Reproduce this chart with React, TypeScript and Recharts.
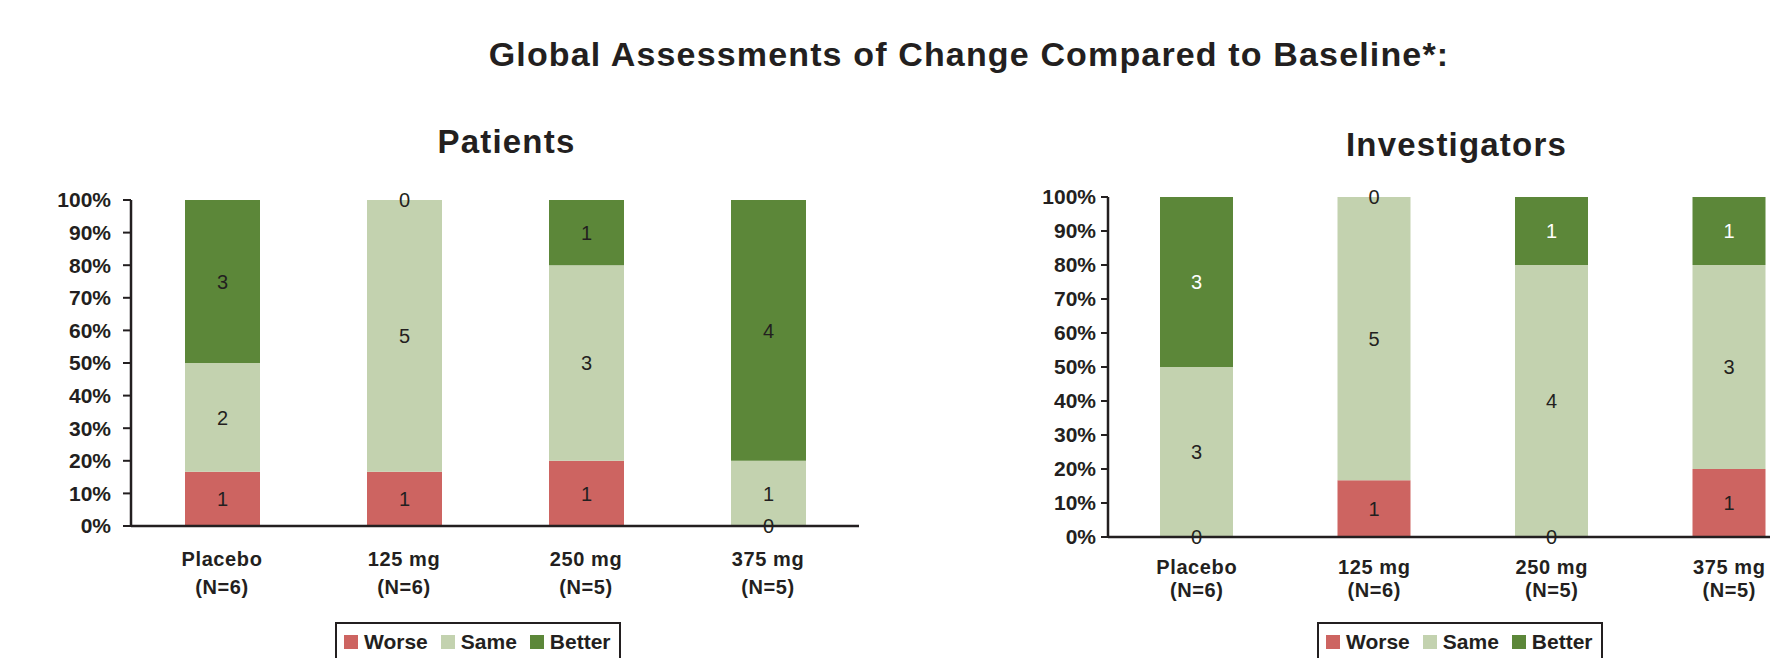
import React from "react";
import { BarChart, Bar, XAxis, YAxis, Legend, LabelList } from "recharts";

const categories = ["Placebo", "125 mg", "250 mg", "375 mg"];
const groupSizes = ["(N=6)", "(N=6)", "(N=5)", "(N=5)"];

const patientsWorse = [1, 1, 1, 0];
const patientsSame = [2, 5, 3, 1];
const patientsBetter = [3, 0, 1, 4];

const investigatorsWorse = [0, 1, 0, 1];
const investigatorsSame = [3, 5, 4, 3];
const investigatorsBetter = [3, 0, 1, 1];

const yTicks = [0, 0.1, 0.2, 0.3, 0.4, 0.5, 0.6, 0.7, 0.8, 0.9, 1];
const boundaryTicks = [0, 1, 2, 3, 4];

const COLORS = { worse: "#CD6461", same: "#C3D2AF", better: "#5C8739" };
const INK = "#231F20";
const FONT = "'Liberation Sans', Arial, Helvetica, sans-serif";
const LABEL_SIZE = 20;

function buildRows(worse: number[], same: number[], better: number[]) {
  return categories.map((name, i) => ({
    name,
    worse: worse[i],
    same: same[i],
    better: better[i],
  }));
}

const patientsData = buildRows(patientsWorse, patientsSame, patientsBetter);
const investigatorsData = buildRows(investigatorsWorse, investigatorsSame, investigatorsBetter);

const box = (props: any) => ({
  x: props.x ?? props.viewBox?.x ?? 0,
  y: props.y ?? props.viewBox?.y ?? 0,
  w: props.width ?? props.viewBox?.width ?? 0,
  h: props.height ?? props.viewBox?.height ?? 0,
});

const countText = (key: string, x: number, y: number, fill: string, value: any) => (
  <text
    key={key}
    x={x}
    y={y}
    dy="0.36em"
    textAnchor="middle"
    fontSize={LABEL_SIZE}
    fontFamily={FONT}
    fill={fill}
  >
    {value}
  </text>
);

// Worse / Better: zero-height segments are dropped by recharts, so only non-zero counts land here
const edgeLabel = (fill: string) => (props: any) => {
  if (!props.value) return null;
  const b = box(props);
  return countText("v", b.x + b.w / 2, b.y + b.h / 2, fill, props.value);
};

// Same: its own count, plus the "0" of an empty neighbour drawn on its bottom / top edge
const middleLabel = (worse: number[], better: number[]) => (props: any) => {
  const b = box(props);
  const cx = b.x + b.w / 2;
  const i = props.index;
  return (
    <g>
      {countText("v", cx, b.y + b.h / 2, INK, props.value)}
      {worse[i] === 0 && countText("w", cx, b.y + b.h, INK, worse[i])}
      {better[i] === 0 && countText("b", cx, b.y, INK, better[i])}
    </g>
  );
};

const categoryTick = (dy1: number, dy2: number) => (props: any) => {
  const { x, y, payload } = props;
  const i = categories.indexOf(payload.value);
  const style = { fontSize: 20, fontWeight: "bold" as const, fontFamily: FONT, letterSpacing: 0.6 };
  return (
    <g>
      <text x={x} y={y + dy1} textAnchor="middle" fill={INK} style={style}>
        {payload.value}
      </text>
      <text x={x} y={y + dy2} textAnchor="middle" fill={INK} style={style}>
        {groupSizes[i]}
      </text>
    </g>
  );
};

const legendBox = (props: any) => (
  <div
    style={{
      border: `2px solid ${INK}`,
      height: 44,
      boxSizing: "border-box",
      display: "flex",
      alignItems: "flex-start",
      paddingTop: 6,
      paddingLeft: 7,
      fontFamily: FONT,
      fontWeight: "bold",
      fontSize: 21,
      lineHeight: "24px",
      color: INK,
    }}
  >
    {[...props.payload].reverse().map((entry: any) => (
      <span key={entry.value} style={{ display: "flex", alignItems: "center", marginRight: 13 }}>
        <span style={{ width: 14, height: 14, background: entry.color, marginRight: 6 }} />
        {entry.value}
      </span>
    ))}
  </div>
);

type PanelProps = {
  data: any[];
  worse: number[];
  better: number[];
  width: number;
  top: number;
  bottom: number;
  right: number;
  yAxisWidth: number;
  barSize: number;
  tickSize: number;
  tickMargin: number;
  xTickSize: number;
  betterLabelFill: string;
  dy1: number;
  dy2: number;
  legendLeft: number;
};

function Panel(p: PanelProps) {
  return (
    <BarChart
      width={p.width}
      height={658}
      data={p.data}
      stackOffset="expand"
      margin={{ top: p.top, right: p.right, bottom: p.bottom, left: 0 }}
    >
      <XAxis
        xAxisId="b-cat"
        dataKey="name"
        height={60}
        axisLine={false}
        tickLine={false}
        interval={0}
        tick={categoryTick(p.dy1, p.dy2)}
      />
      {/* numeric helper axis: draws the baseline and the ticks between the categories */}
      <XAxis
        xAxisId="a-grid"
        type="number"
        domain={[0, 4]}
        ticks={boundaryTicks}
        height={1}
        tick={false}
        tickSize={p.xTickSize}
        axisLine={{ stroke: INK, strokeWidth: 2.5 }}
        tickLine={{ stroke: INK, strokeWidth: 2 }}
      />
      <YAxis
        width={p.yAxisWidth}
        domain={[0, 1]}
        ticks={yTicks}
        tickFormatter={(v: number) => `${Math.round(v * 100)}%`}
        tick={{ fill: INK, fontSize: 21, fontWeight: "bold", fontFamily: FONT }}
        tickSize={p.tickSize}
        tickMargin={p.tickMargin}
        axisLine={{ stroke: INK, strokeWidth: 2.5 }}
        tickLine={{ stroke: INK, strokeWidth: 2 }}
        interval={0}
      />
      <Legend
        layout="horizontal"
        verticalAlign="middle"
        align="center"
        content={legendBox}
        wrapperStyle={{ left: p.legendLeft, top: 622, width: 286 }}
      />
      <Bar dataKey="worse" name="Worse" xAxisId="b-cat" stackId="s" fill={COLORS.worse} barSize={p.barSize} isAnimationActive={false}>
        <LabelList dataKey="worse" content={edgeLabel(INK)} />
      </Bar>
      <Bar dataKey="same" name="Same" xAxisId="b-cat" stackId="s" fill={COLORS.same} barSize={p.barSize} isAnimationActive={false}>
        <LabelList dataKey="same" content={middleLabel(p.worse, p.better)} />
      </Bar>
      <Bar dataKey="better" name="Better" xAxisId="b-cat" stackId="s" fill={COLORS.better} barSize={p.barSize} isAnimationActive={false}>
        <LabelList dataKey="better" content={edgeLabel(p.betterLabelFill)} />
      </Bar>
    </BarChart>
  );
}

const titleStyle = {
  position: "absolute" as const,
  textAlign: "center" as const,
  fontWeight: "bold" as const,
  color: INK,
  whiteSpace: "nowrap" as const,
};

export default function App() {
  return (
    <div
      style={{
        position: "absolute",
        left: 0,
        top: 0,
        width: 1770,
        height: 658,
        overflow: "hidden",
        background: "#fff",
        fontFamily: FONT,
      }}
    >
      <div style={{ ...titleStyle, left: 0, width: 1938, top: 35, fontSize: 34, letterSpacing: 1.15 }}>
        Global Assessments of Change Compared to Baseline*:
      </div>
      <div style={{ ...titleStyle, left: 0, width: 1013, top: 123, fontSize: 33, letterSpacing: 1.2 }}>
        Patients
      </div>
      <div style={{ ...titleStyle, left: 1000, width: 913, top: 126, fontSize: 33, letterSpacing: 1.2 }}>
        Investigators
      </div>
      <div style={{ position: "absolute", left: 0, top: 0 }}>
        <Panel
          data={patientsData}
          worse={patientsWorse}
          better={patientsBetter}
          width={900}
          top={200}
          bottom={71}
          right={41}
          yAxisWidth={131}
          barSize={75}
          tickSize={8}
          tickMargin={12}
          xTickSize={8}
          betterLabelFill={INK}
          dy1={31}
          dy2={59}
          legendLeft={335}
        />
      </div>
      <div style={{ position: "absolute", left: 900, top: 0 }}>
        <Panel
          data={investigatorsData}
          worse={investigatorsWorse}
          better={investigatorsBetter}
          width={918}
          top={197}
          bottom={60}
          right={0}
          yAxisWidth={208}
          barSize={73}
          tickSize={7}
          tickMargin={5}
          xTickSize={7}
          betterLabelFill="#ffffff"
          dy1={28}
          dy2={51}
          legendLeft={417}
        />
      </div>
    </div>
  );
}
